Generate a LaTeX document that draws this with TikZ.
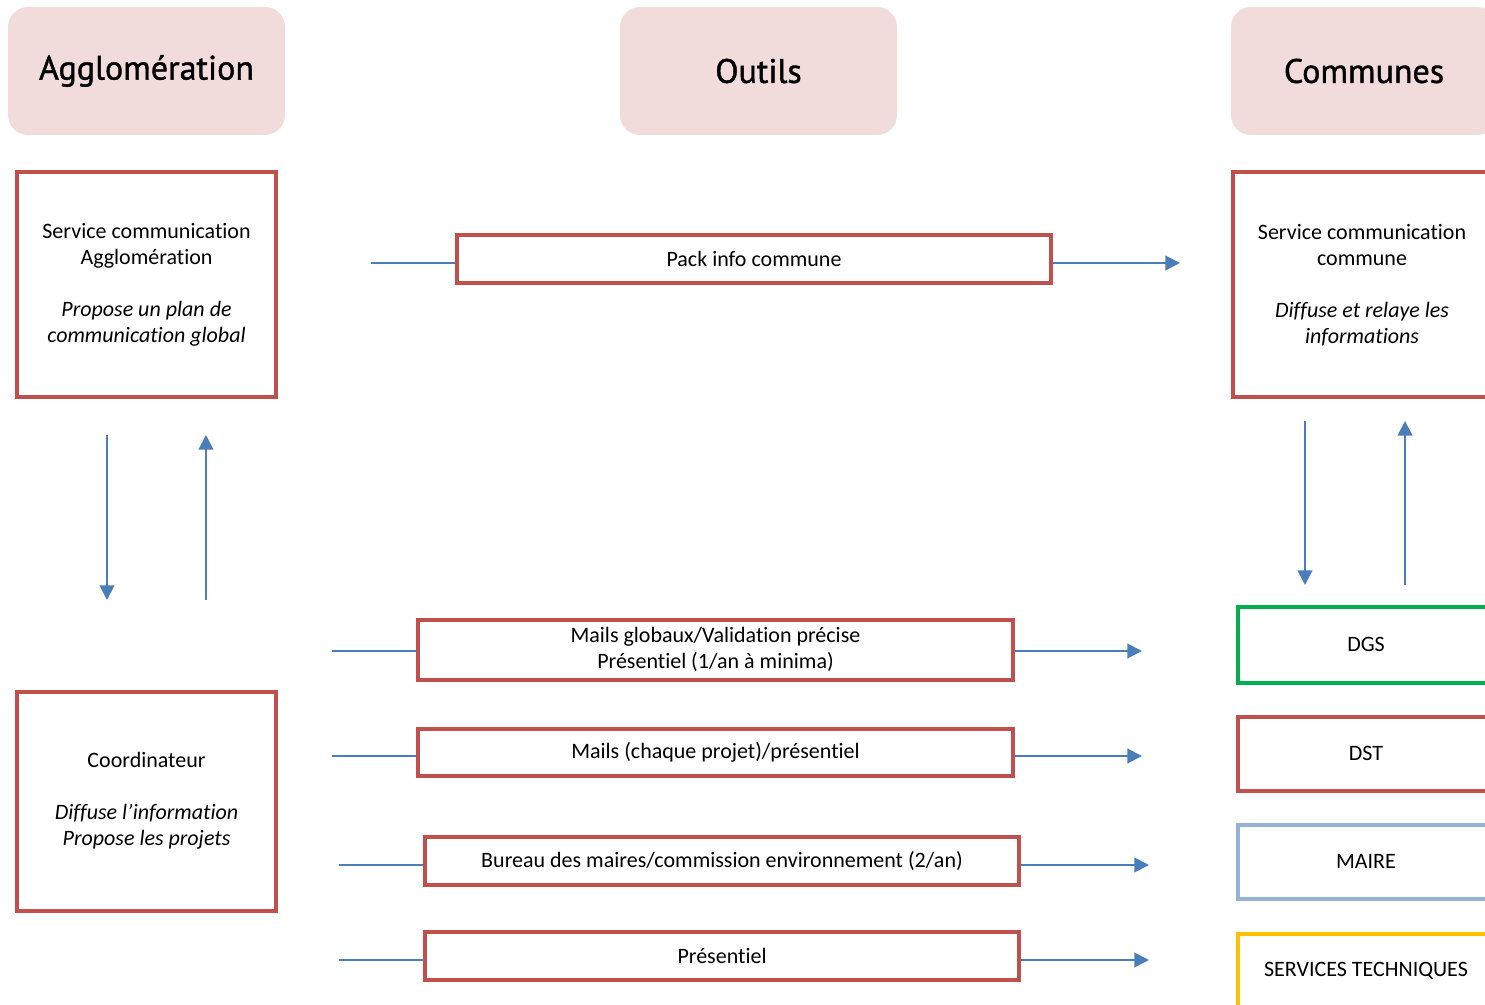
\documentclass[tikz,border=0pt]{standalone}
\usepackage{fontspec}
\setmainfont[Ligatures={NoCommon,NoRequired,NoContextual}]{Carlito}
\newfontfamily\headfont[FakeBold=1.2]{PT Sans}
\usetikzlibrary{arrows.meta}
\definecolor{boxred}{HTML}{C0504D}
\definecolor{headpink}{HTML}{F2DCDB}
\definecolor{arrblue}{HTML}{4A7EBB}
\definecolor{dgsgreen}{HTML}{00B050}
\definecolor{maireblue}{HTML}{95B3D7}
\definecolor{stjaune}{HTML}{FFC000}
\def\px{0.75pt}
\tikzset{
  header/.style={fill=headpink, draw=none, rounded corners=15pt, font=\headfont\fontsize{25.5}{30}\selectfont, inner sep=0pt},
  box/.style={draw=boxred, line width=3pt, inner sep=0pt, align=center, font=\fontsize{16.5}{19.5}\selectfont},
  flow/.style={draw=arrblue, line width=1.5pt},
  flowarr/.style={flow, -{Triangle[length=11pt,width=11pt]}},
}
\begin{document}
\begin{tikzpicture}[x=0.75pt,y=-0.75pt]
\useasboundingbox (0,0) rectangle (1485,1005);
\clip (0,0) rectangle (1485,1005);
% headers
\node[header, minimum width=277*\px, minimum height=128*\px] (hA) at (146.5,71) {Agglomération};
\node[header, minimum width=277*\px, minimum height=128*\px] (hO) at (758.5,71) {Outils};
\node[header, minimum width=266*\px, minimum height=128*\px] (hC) at (1364,71) {Communes};
% left
\node[box, minimum width=259*\px, minimum height=225*\px] (sa) at (146.5,285)
  {Service communication\\Agglomération\\[19.5pt]\itshape Propose un plan de\\\itshape communication global};
\node[box, minimum width=259*\px, minimum height=219*\px] (co) at (146.5,801)
  {Coordinateur\\[19.5pt]\itshape Diffuse l’information\\\itshape Propose les projets};
% right
\node[box, minimum width=258*\px, minimum height=225*\px] (sc) at (1362,285)
  {Service communication\\commune\\[19.5pt]\itshape Diffuse et relaye les\\\itshape informations};
\node[box, draw=dgsgreen, minimum width=256*\px, minimum height=76*\px] (dgs) at (1366,644.5) {DGS};
\node[box, minimum width=256*\px, minimum height=74*\px] (dst) at (1366,753.5) {DST};
\node[box, draw=maireblue, minimum width=256*\px, minimum height=74*\px] (mai) at (1366,861.5) {MAIRE};
\node[box, draw=stjaune, minimum width=256*\px, minimum height=74*\px] (st) at (1366,970.5) {SERVICES TECHNIQUES};
% middle
\node[box, minimum width=594*\px, minimum height=48*\px] (pk) at (754,259) {Pack info commune};
\node[box, minimum width=595*\px, minimum height=60*\px] (mg) at (715.5,649.5) {Mails globaux/Validation précise\\Présentiel (1/an à minima)};
\node[box, minimum width=595*\px, minimum height=47*\px] (mc) at (715.5,752) {Mails (chaque projet)/présentiel};
\node[box, minimum width=594*\px, minimum height=48*\px] (bm) at (722,861) {Bureau des maires/commission environnement (2/an)};
\node[box, minimum width=594*\px, minimum height=48*\px] (pr) at (722,956) {Présentiel};
% free ends
\coordinate (pkL) at (371,263);  \coordinate (pkR) at (1180,263);
\coordinate (mgL) at (332,651);  \coordinate (mgR) at (1142,651);
\coordinate (mcL) at (332,756);  \coordinate (mcR) at (1142,756);
\coordinate (bmL) at (339,865);  \coordinate (bmR) at (1149,865);
\coordinate (prL) at (339,960);  \coordinate (prR) at (1149,960);
\foreach \n in {pk,mg,mc,bm,pr}{
  \draw[flow] (\n L) -- (\n L -| \n.west);
  \draw[flowarr] (\n.east |- \n R) -- (\n R);
}
% verticals
\coordinate (v1a) at (107,435); \coordinate (v1b) at (107,600);
\coordinate (v2a) at (206,600); \coordinate (v2b) at (206,435);
\coordinate (v3a) at (1305,421); \coordinate (v3b) at (1305,585);
\coordinate (v4a) at (1405,585); \coordinate (v4b) at (1405,421);
\draw[flowarr] (v1a) -- (v1b);
\draw[flowarr] (v2a) -- (v2b);
\draw[flowarr] (v3a) -- (v3b);
\draw[flowarr] (v4a) -- (v4b);
\end{tikzpicture}
\end{document}
